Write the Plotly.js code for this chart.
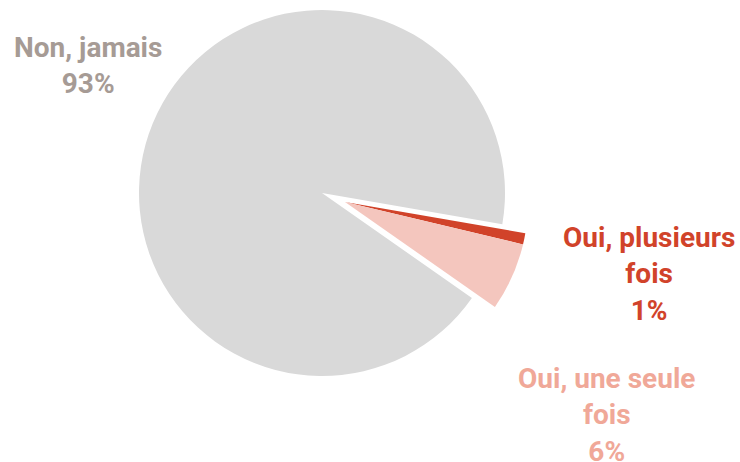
<!DOCTYPE html>
<html>
<head>
<meta charset="utf-8">
<script src="https://cdn.plot.ly/plotly-3.0.1.min.js"></script>
<style>html,body{margin:0;padding:0;background:#fff;}#chart{width:740px;height:462px;}</style>
</head>
<body>
<div id="chart"></div>
<script>
var labels = ["Oui, plusieurs fois", "Oui, une seule fois", "Non, jamais"];
var values = [1, 6, 93];
var labelLines = [["Oui, plusieurs", "fois"], ["Oui, une seule", "fois"], ["Non, jamais"]];
var pctText = ["1%", "6%", "93%"];

var W = 740, H = 462;
var sliceColors = ["#d1432a", "#f4c6be", "#d9d9d9"];
var textColors = ["#d1432a", "#f0a898", "#a69b95"];
function px(x){return x / W;}
function py(y){return 1 - y / H;}

var R = 183, cx = 322, cy = 193;
var offX = 23, offY = 9;

var base = {
  type: "pie", labels: labels, values: values, sort: false, direction: "clockwise",
  rotation: 99.8, textinfo: "none", hoverinfo: "label+percent", showlegend: false,
  marker: {line: {width: 0}}
};
var tGray = Object.assign({}, base, {
  marker: {colors: ["rgba(0,0,0,0)", "rgba(0,0,0,0)", sliceColors[2]], line: {width: 0}},
  domain: {x: [px(cx - R), px(cx + R)], y: [py(cy + R), py(cy - R)]}
});
var tOut = Object.assign({}, base, {
  marker: {colors: [sliceColors[0], sliceColors[1], "rgba(0,0,0,0)"], line: {width: 0}},
  domain: {x: [px(cx - R + offX), px(cx + R + offX)], y: [py(cy + R + offY), py(cy - R + offY)]}
});

var annPos = [[649, 246], [606, 387], [88, 56]]; // first-line baseline, center x
var annotations = labels.map(function(l, i){
  var txt = labelLines[i].concat([pctText[i]]).join("<br>");
  return {
    xref: "paper", yref: "paper", x: px(annPos[i][0]), y: py(annPos[i][1] - 27),
    xanchor: "center", yanchor: "top", showarrow: false, align: "center",
    text: "<b>" + txt + "</b>",
    font: {family: "Roboto, sans-serif", size: 28, color: textColors[i]}
  };
});

Plotly.newPlot("chart", [tGray, tOut], {
  width: W, height: H, margin: {l: 0, r: 0, t: 0, b: 0},
  paper_bgcolor: "#fff", plot_bgcolor: "#fff",
  annotations: annotations
}, {displayModeBar: false, staticPlot: true});
</script>
</body>
</html>
